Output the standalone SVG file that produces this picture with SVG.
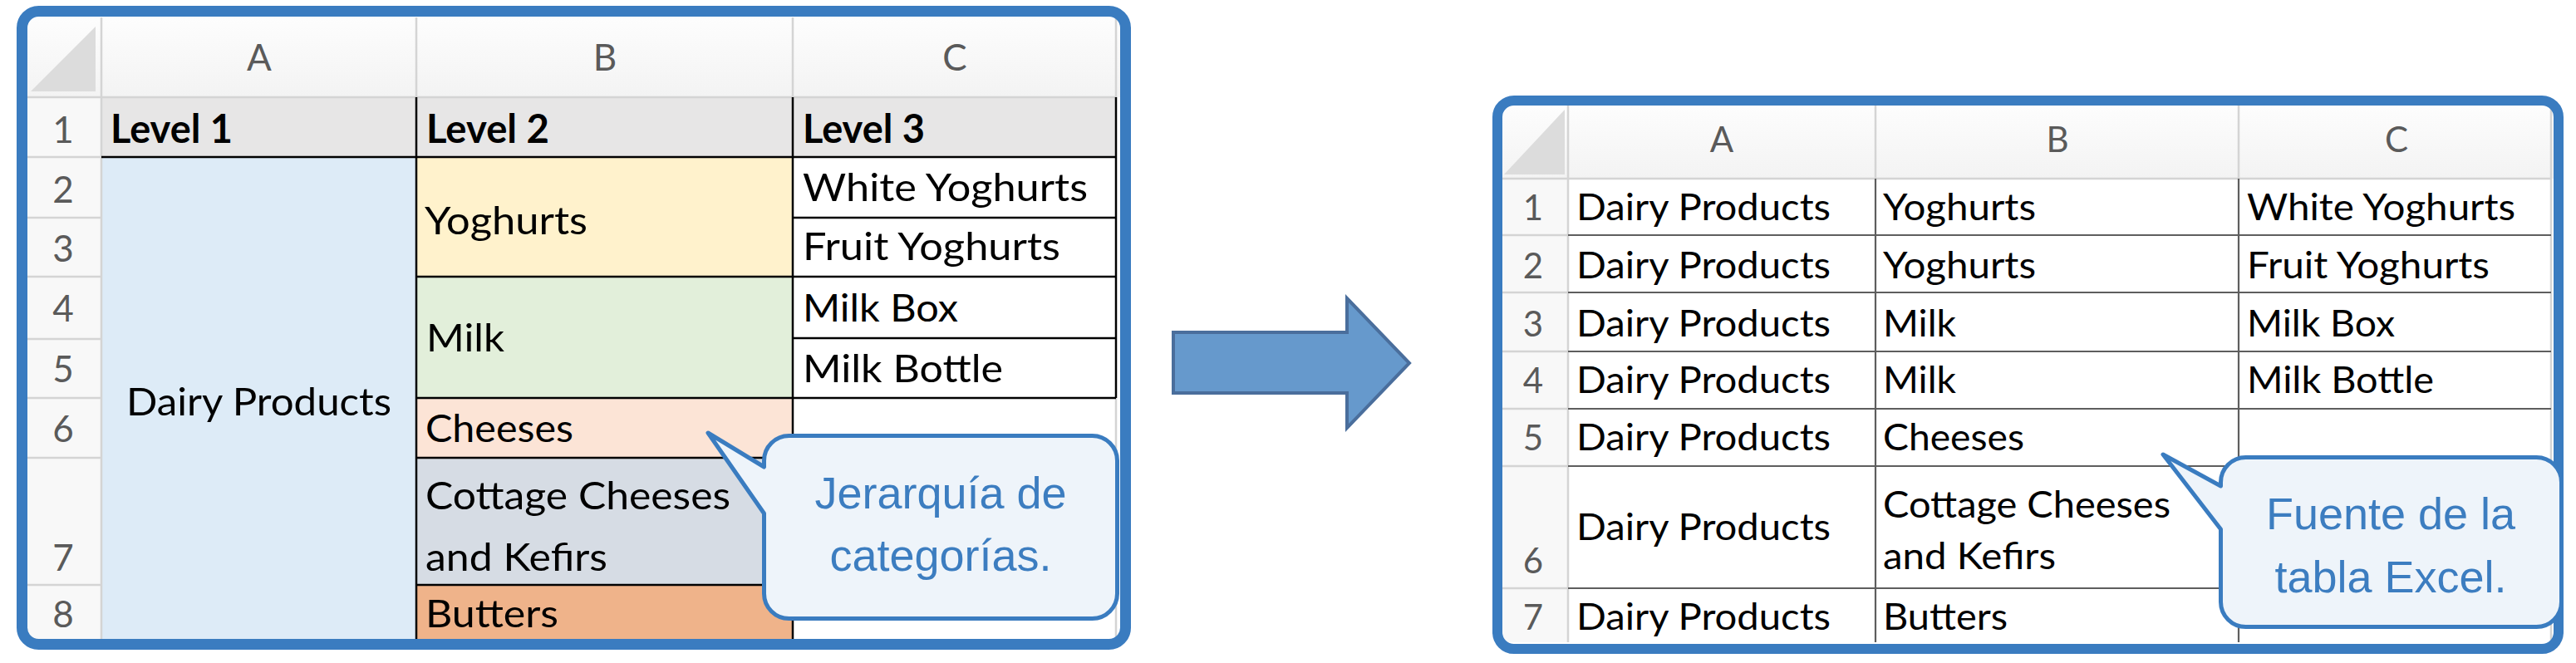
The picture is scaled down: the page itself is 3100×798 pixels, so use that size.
<svg xmlns="http://www.w3.org/2000/svg" width="3100" height="798" viewBox="0 0 3100 798">
<style>
.t{font-family:Lato,"Liberation Sans",sans-serif;font-size:47px;fill:#000}
.tr{font-family:Lato,"Liberation Sans",sans-serif;font-size:44.5px;fill:#000}
.b{font-weight:700}
.h{font-family:Lato,"Liberation Sans",sans-serif;font-size:44px;fill:#5A5A5A;text-anchor:middle}
.hr{font-family:Lato,"Liberation Sans",sans-serif;font-size:42px;fill:#5A5A5A;text-anchor:middle}
.blk{stroke:#000;stroke-width:2.5;fill:none}
.dk{stroke:#5E5E5E;stroke-width:2.2;fill:none}
.lg{stroke:#D4D4D4;stroke-width:2.5;fill:none}
.frame{fill:none;stroke:#3A7CC0;stroke-width:13}
.bub{fill:#EEF4FA;stroke:#3A7CC0;stroke-width:5;stroke-linejoin:round}
.ct{font-family:"Liberation Sans",Arial,sans-serif;font-size:54px;fill:#3C7DC0;text-anchor:middle}
</style>
<defs>
<linearGradient id="hg" x1="0" y1="0" x2="0" y2="1">
<stop offset="0" stop-color="#FDFDFD"/><stop offset="1" stop-color="#F3F3F3"/>
</linearGradient>
</defs>
<rect width="3100" height="798" fill="#FFFFFF"/>

<g id="left-table">
<rect x="26" y="14" width="1328" height="762" rx="20" fill="#FFFFFF"/>
<rect x="33" y="21" width="1315" height="96" fill="url(#hg)"/>
<rect x="33" y="117" width="89" height="652" fill="#F8F8F8"/>
<polygon points="37,110 115,110 115,32" fill="#DCDCDC"/>
<rect x="122" y="117" width="1221" height="72" fill="#E7E6E6"/>
<rect x="122" y="189" width="379" height="580" fill="#DDEBF7"/>
<rect x="501" y="189" width="453" height="144" fill="#FFF2CC"/>
<rect x="501" y="333" width="453" height="146" fill="#E2EFDA"/>
<rect x="501" y="479" width="453" height="72" fill="#FCE4D6"/>
<rect x="501" y="551" width="453" height="153" fill="#D6DCE4"/>
<rect x="501" y="704" width="453" height="65" fill="#EFB38A"/>
<path class="lg" d="M122,21V769M501,21V117M954,21V117M1343,21V117M33,117H1343M33,189H122M33,262H122M33,333H122M33,408H122M33,479H122M33,551H122M33,704H122M1343,479V769"/>
<path class="blk" d="M122,189H1343M501,117V769M954,117V769M1343,117V479M501,333H954M501,479H954M501,551H954M501,704H954M954,262H1343M954,333H1343M954,407H1343M954,479H1343"/>
<text class="h" x="312" y="85">A</text>
<text class="h" x="728" y="85">B</text>
<text class="h" x="1149" y="85">C</text>
<text class="h" x="76" y="172">1</text>
<text class="h" x="76" y="244">2</text>
<text class="h" x="76" y="315">3</text>
<text class="h" x="76" y="387">4</text>
<text class="h" x="76" y="460">5</text>
<text class="h" x="76" y="532">6</text>
<text class="h" x="76" y="687">7</text>
<text class="h" x="76" y="755">8</text>
<text class="t b" x="133" y="172" textLength="147" lengthAdjust="spacingAndGlyphs">Level 1</text>
<text class="t b" x="513" y="172" textLength="148" lengthAdjust="spacingAndGlyphs">Level 2</text>
<text class="t b" x="966" y="172" textLength="147" lengthAdjust="spacingAndGlyphs">Level 3</text>
<text class="t" x="152" y="500" textLength="319" lengthAdjust="spacingAndGlyphs">Dairy Products</text>
<text class="t" x="511" y="282" textLength="196" lengthAdjust="spacingAndGlyphs">Yoghurts</text>
<text class="t" x="513" y="423" textLength="94" lengthAdjust="spacingAndGlyphs">Milk</text>
<text class="t" x="512" y="532" textLength="178" lengthAdjust="spacingAndGlyphs">Cheeses</text>
<text class="t" x="512" y="613" textLength="367" lengthAdjust="spacingAndGlyphs">Cottage Cheeses</text>
<text class="t" x="512" y="687" textLength="219" lengthAdjust="spacingAndGlyphs">and Kefirs</text>
<text class="t" x="512" y="755" textLength="160" lengthAdjust="spacingAndGlyphs">Butters</text>
<text class="t" x="966" y="242" textLength="343" lengthAdjust="spacingAndGlyphs">White Yoghurts</text>
<text class="t" x="966" y="313" textLength="310" lengthAdjust="spacingAndGlyphs">Fruit Yoghurts</text>
<text class="t" x="966" y="387" textLength="187" lengthAdjust="spacingAndGlyphs">Milk Box</text>
<text class="t" x="966" y="460" textLength="241" lengthAdjust="spacingAndGlyphs">Milk Bottle</text>
<rect class="frame" x="26.5" y="13.5" width="1328" height="762" rx="20"/>
</g>

<g id="right-table">
<rect x="1802" y="121" width="1277" height="660" rx="20" fill="#FFFFFF"/>
<rect x="1808" y="127" width="1265" height="88" fill="url(#hg)"/>
<rect x="1808" y="215" width="79" height="558" fill="#F8F8F8"/>
<polygon points="1810,210 1883,210 1883,132" fill="#DCDCDC"/>
<path class="lg" d="M1887,127V773M2257,127V215M2694,127V215M3070,127V773M1808,215H3070M1808,283H1887M1808,352H1887M1808,423H1887M1808,492H1887M1808,561H1887M1808,708H1887"/>
<path class="dk" d="M1887,283H3070M1887,352H3070M1887,423H3070M1887,492H3070M1887,561H3070M1887,708H3070M2257,215V773M2694,215V773"/>
<text class="hr" x="2072" y="183">A</text>
<text class="hr" x="2476" y="183">B</text>
<text class="hr" x="2884" y="183">C</text>
<text class="hr" x="1845" y="265">1</text>
<text class="hr" x="1845" y="335">2</text>
<text class="hr" x="1845" y="405">3</text>
<text class="hr" x="1845" y="473">4</text>
<text class="hr" x="1845" y="542">5</text>
<text class="hr" x="1845" y="690">6</text>
<text class="hr" x="1845" y="758">7</text>
<text class="tr" x="1897" y="265" textLength="306" lengthAdjust="spacingAndGlyphs">Dairy Products</text>
<text class="tr" x="1897" y="335" textLength="306" lengthAdjust="spacingAndGlyphs">Dairy Products</text>
<text class="tr" x="1897" y="405" textLength="306" lengthAdjust="spacingAndGlyphs">Dairy Products</text>
<text class="tr" x="1897" y="473" textLength="306" lengthAdjust="spacingAndGlyphs">Dairy Products</text>
<text class="tr" x="1897" y="542" textLength="306" lengthAdjust="spacingAndGlyphs">Dairy Products</text>
<text class="tr" x="1897" y="650" textLength="306" lengthAdjust="spacingAndGlyphs">Dairy Products</text>
<text class="tr" x="1897" y="758" textLength="306" lengthAdjust="spacingAndGlyphs">Dairy Products</text>
<text class="tr" x="2266" y="265" textLength="184" lengthAdjust="spacingAndGlyphs">Yoghurts</text>
<text class="tr" x="2266" y="335" textLength="184" lengthAdjust="spacingAndGlyphs">Yoghurts</text>
<text class="tr" x="2266" y="405" textLength="88" lengthAdjust="spacingAndGlyphs">Milk</text>
<text class="tr" x="2266" y="473" textLength="88" lengthAdjust="spacingAndGlyphs">Milk</text>
<text class="tr" x="2266" y="542" textLength="170" lengthAdjust="spacingAndGlyphs">Cheeses</text>
<text class="tr" x="2266" y="623" textLength="346" lengthAdjust="spacingAndGlyphs">Cottage Cheeses</text>
<text class="tr" x="2266" y="685" textLength="208" lengthAdjust="spacingAndGlyphs">and Kefirs</text>
<text class="tr" x="2266" y="758" textLength="150" lengthAdjust="spacingAndGlyphs">Butters</text>
<text class="tr" x="2704" y="265" textLength="323" lengthAdjust="spacingAndGlyphs">White Yoghurts</text>
<text class="tr" x="2704" y="335" textLength="292" lengthAdjust="spacingAndGlyphs">Fruit Yoghurts</text>
<text class="tr" x="2704" y="405" textLength="178" lengthAdjust="spacingAndGlyphs">Milk Box</text>
<text class="tr" x="2704" y="473" textLength="225" lengthAdjust="spacingAndGlyphs">Milk Bottle</text>
<rect class="frame" x="1802" y="121" width="1277" height="660" rx="20" style="stroke-width:12"/>
</g>

<g id="connectors">
<polygon points="1412,400 1621,400 1621,359 1696,437 1621,515 1621,473 1412,473" fill="#6699CC" stroke="#4A6E9C" stroke-width="4" stroke-linejoin="miter"/>
</g>

<g id="callout-left">
<path class="bub" d="M949.5,524.5H1314.5A30,30 0 0 1 1344.5,554.5V714.5A30,30 0 0 1 1314.5,744.5H949.5A30,30 0 0 1 919.5,714.5V618L852,521L919.5,562V554.5A30,30 0 0 1 949.5,524.5Z"/>
<text class="ct" x="1132" y="612">Jerarquía de</text>
<text class="ct" x="1132" y="687">categorías.</text>
</g>

<g id="callout-right">
<path class="bub" d="M2702.5,550.5H3052.5A30,30 0 0 1 3082.5,580.5V724.5A30,30 0 0 1 3052.5,754.5H2702.5A30,30 0 0 1 2672.5,724.5V637L2603,547L2672.5,585V580.5A30,30 0 0 1 2702.5,550.5Z"/>
<text class="ct" x="2877" y="637">Fuente de la</text>
<text class="ct" x="2877" y="713">tabla Excel.</text>
</g>
</svg>
